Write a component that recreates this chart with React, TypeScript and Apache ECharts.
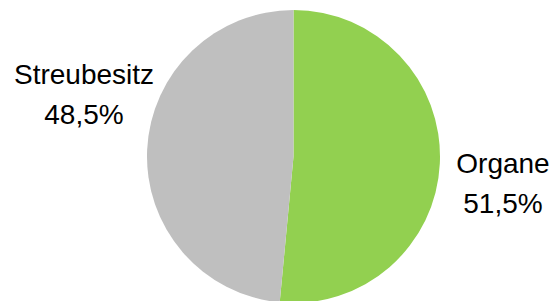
import React, { useEffect, useRef } from "react";
import * as echarts from "echarts";

const categories = ["Organe", "Streubesitz"];
const shares = [51.5, 48.5];
const colors = ["#92D050", "#BFBFBF"];
const labelPositions = [
  [503, 183],
  [84, 94],
];

export default function App() {
  const ref = useRef<HTMLDivElement>(null);
  useEffect(() => {
    if (!ref.current) return;
    const chart = echarts.init(ref.current, undefined, { renderer: "svg" });
    chart.setOption({
      animation: false,
      backgroundColor: "#ffffff",
      series: [
        {
          type: "pie",
          center: [293.5, 156.5],
          radius: 146.5,
          startAngle: 90,
          clockwise: true,
          data: categories.map((name, i) => ({
            name,
            value: shares[i],
            itemStyle: { color: colors[i] },
          })),
          label: {
            show: true,
            position: "outside",
            formatter: (p: any) =>
              p.name + "\n" + Number(p.value).toFixed(1).replace(".", ",") + "%",
            fontFamily: "Liberation Sans, Arial, sans-serif",
            fontSize: 28,
            lineHeight: 40,
            color: "#000000",
            align: "center",
            overflow: "none",
            width: 200,
            edgeDistance: 0,
          },
          labelLine: { show: false },
          labelLayout: (params: any) => ({
            x: labelPositions[params.dataIndex][0],
            y: labelPositions[params.dataIndex][1],
            align: "center",
            verticalAlign: "middle",
            moveOverlap: false,
          }),
          emphasis: { disabled: true },
        },
      ],
    });
    return () => chart.dispose();
  }, []);
  return (
    <div
      ref={ref}
      style={{ position: "absolute", left: 0, top: 0, width: 553, height: 301 }}
    />
  );
}
